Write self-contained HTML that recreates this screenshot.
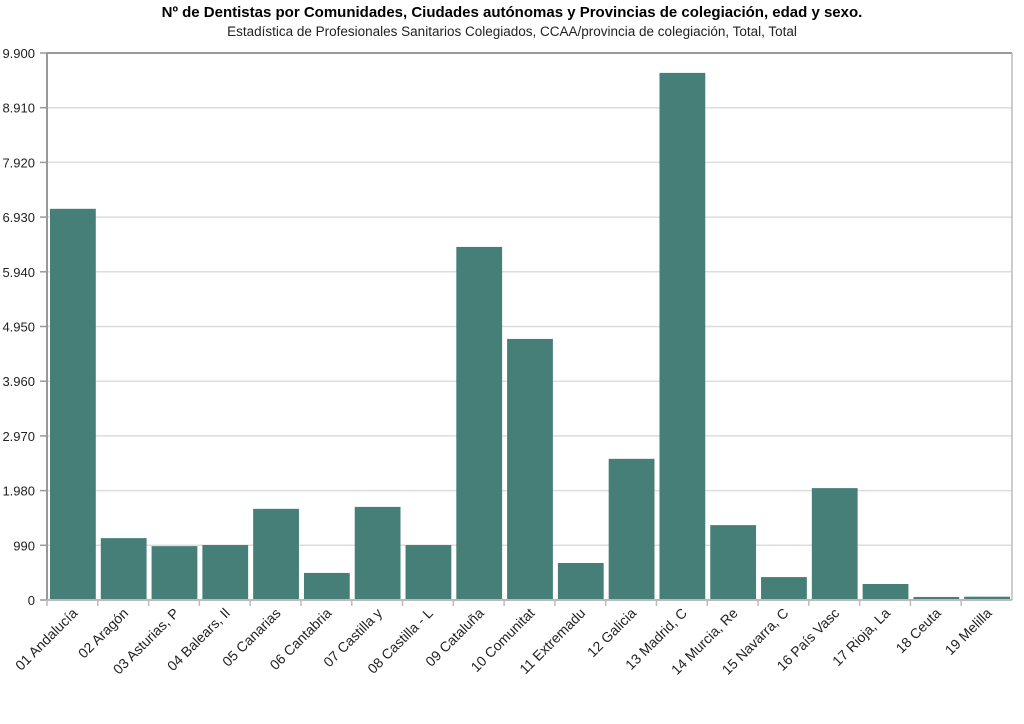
<!DOCTYPE html>
<html><head><meta charset="utf-8"><style>
body{margin:0;background:#fff;font-family:"Liberation Sans",Arial,sans-serif}
svg{display:block}
</style></head><body>
<svg id="chart" width="1024" height="724">
<text x="512" y="17" text-anchor="middle" font-size="15" font-weight="bold" fill="#000">Nº de Dentistas por Comunidades, Ciudades autónomas y Provincias de colegiación, edad y sexo.</text>
<text x="512" y="36" text-anchor="middle" font-size="13.5" fill="#222">Estadística de Profesionales Sanitarios Colegiados, CCAA/provincia de colegiación, Total, Total</text>
<g id="grid"></g><g id="bars"></g><g id="axes"></g>
</svg>
<script>
const categories=["01 Andalucía","02 Aragón","03 Asturias, P","04 Balears, Il","05 Canarias","06 Cantabria","07 Castilla y","08 Castilla - L","09 Cataluña","10 Comunitat","11 Extremadu","12 Galicia","13 Madrid, C","14 Murcia, Re","15 Navarra, C","16 País Vasc","17 Rioja, La","18 Ceuta","19 Melilla"];
const values=[7080,1120,975,995,1650,490,1685,995,6390,4725,670,2555,9540,1355,415,2025,290,55,60];
const yTicks=[0,990,1980,2970,3960,4950,5940,6930,7920,8910,9900];
const tickLabels=["0","990","1.980","2.970","3.960","4.950","5.940","6.930","7.920","8.910","9.900"];
const ns="http://www.w3.org/2000/svg";
const X0=47,X1=1012,Y0=600,Y1=53,YMAX=9900;
const y=v=>Y0-(v/YMAX)*(Y0-Y1);
const bw=(X1-X0)/categories.length;
const x=i=>X0+i*bw;
function mk(t,a,p){const e=document.createElementNS(ns,t);for(const k in a)e.setAttribute(k,a[k]);p.appendChild(e);return e;}
const G=document.getElementById('grid'),B=document.getElementById('bars'),A=document.getElementById('axes');
yTicks.forEach((t,i)=>{
 const l=mk('line',{x1:X0,x2:X1,y1:y(t),y2:y(t),stroke:i==yTicks.length-1?'#999':'#ddd','stroke-width':i==yTicks.length-1?2:1.5},G);
 
 
 const tk=mk('line',{x1:X0-7,x2:X0,y1:y(t),y2:y(t),stroke:'#999','stroke-width':1.5},A);
 
 
 const tx=mk('text',{x:X0-12,y:y(t)+5,'text-anchor':'end','font-size':13,fill:'#222'},A);
 tx.textContent=tickLabels[i];
 
 
});
values.forEach((v,i)=>{
 const r=mk('rect',{x:x(i)+3,y:y(v),width:bw-5,height:Y0-y(v),fill:'#467f78'},B);
 
 
 const tk=mk('line',{x1:x(i),x2:x(i),y1:Y0,y2:Y0+6,stroke:'#bbb','stroke-width':1.5},A);
 
 
 const cx=x(i)+bw/2+6,cy=Y0+14;
 const tx=mk('text',{x:cx,y:cy,'text-anchor':'end','font-size':14,fill:'#222',transform:`rotate(-45 ${cx} ${cy})`},A);
 tx.textContent=categories[i];
 
 
});
const ya=mk('line',{x1:X0,x2:X0,y1:Y1,y2:Y0,stroke:'#999','stroke-width':2},A);


const ra=mk('line',{x1:X1,x2:X1,y1:Y1,y2:Y0,stroke:'#bbb','stroke-width':1.5},A);


const xa=mk('line',{x1:X0,x2:X1,y1:Y0,y2:Y0,stroke:'#bbb','stroke-width':2},A);


</script>
</body></html>
